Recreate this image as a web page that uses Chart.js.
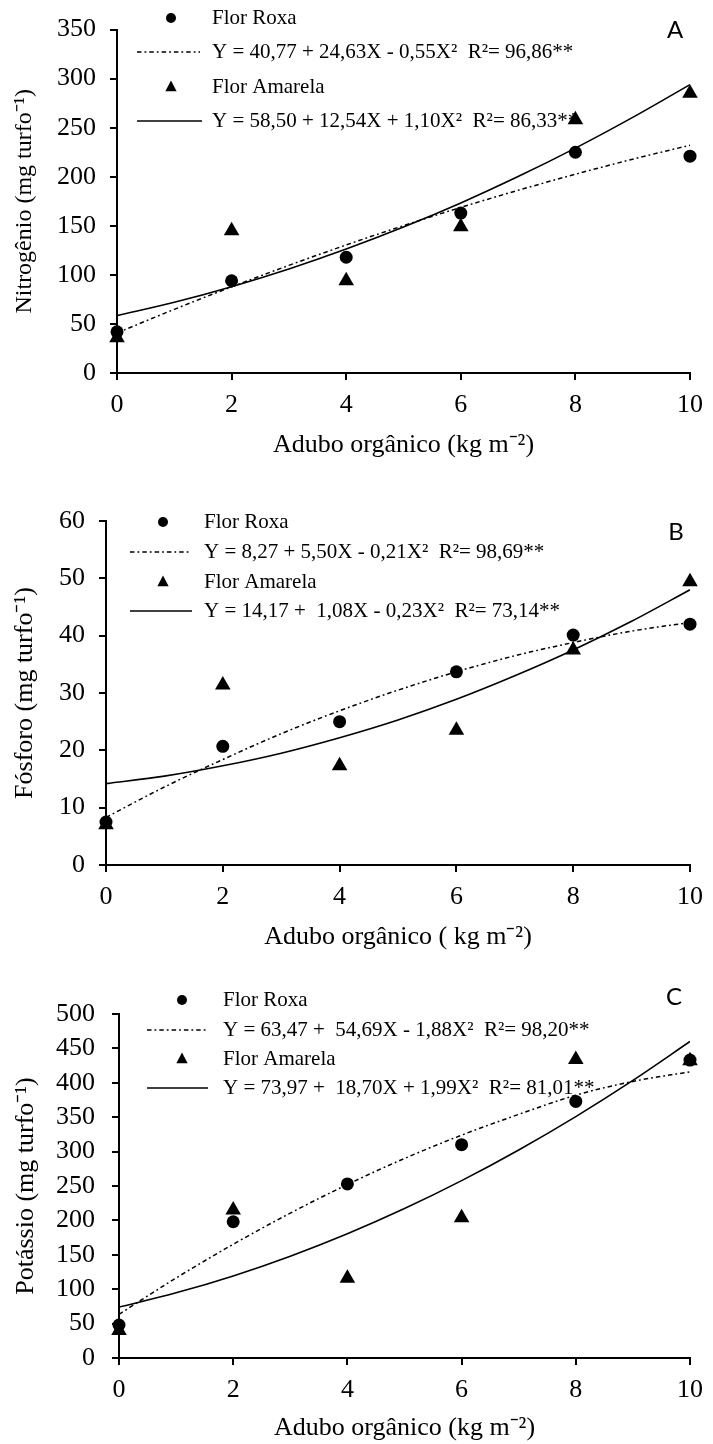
<!DOCTYPE html>
<html><head><meta charset="utf-8">
<script src="https://cdn.jsdelivr.net/npm/chart.js@4.4.1/dist/chart.umd.min.js"></script>
<style>
html,body{margin:0;padding:0;background:#fff;}
#page{position:relative;width:713px;height:1444px;overflow:hidden;background:#fff;}
.panel{position:absolute;left:0;}
canvas{display:block;}
</style></head><body><div id="page">
<div class="panel" style="top:0px"><canvas id="cA" width="713" height="461"></canvas></div>
<div class="panel" style="top:461px"><canvas id="cB" width="713" height="492"></canvas></div>
<div class="panel" style="top:953px"><canvas id="cC" width="713" height="491"></canvas></div>
</div>
<script>
// ---------- shared ----------
const doses = [0, 2, 4, 6, 8, 10];
const fitX = [0, 1, 2, 3, 4, 5, 6, 7, 8, 9, 10];
const xTicks = [0, 2, 4, 6, 8, 10];
const seriesNames = ['Flor Roxa', 'Flor Amarela'];

// ---------- panel A: Nitrogênio ----------
const nRoxa = [42, 94, 118, 163, 225, 221];
const nAmarela = [36, 145, 94, 149, 258, 285];
const nRoxaFit = [40.8, 64.9, 87.8, 109.7, 130.5, 150.2, 168.8, 186.2, 202.6, 217.9, 232.1];
const nAmarelaFit = [58.5, 72.1, 88.0, 106.0, 126.3, 148.7, 173.3, 200.2, 229.2, 260.5, 293.9];
const nYTicks = [0, 50, 100, 150, 200, 250, 300, 350];
const nEq = ['Y = 40,77 + 24,63X - 0,55X²  R²= 96,86**', 'Y = 58,50 + 12,54X + 1,10X²  R²= 86,33**'];

// ---------- panel B: Fósforo ----------
const pRoxa = [7.5, 20.7, 25.0, 33.7, 40.1, 42.0];
const pAmarela = [7.0, 31.4, 17.3, 23.5, 37.5, 49.4];
const pRoxaFit = [8.3, 13.6, 18.4, 22.9, 26.9, 30.5, 33.7, 36.5, 38.8, 40.8, 42.3];
const pAmarelaFit = [14.2, 15.5, 17.3, 19.5, 22.2, 25.3, 28.9, 33.0, 37.5, 42.5, 48.0];
const pYTicks = [0, 10, 20, 30, 40, 50, 60];
const pEq = ['Y = 8,27 + 5,50X - 0,21X²  R²= 98,69**', 'Y = 14,17 +  1,08X - 0,23X²  R²= 73,14**'];

// ---------- panel C: Potássio ----------
const kRoxa = [48, 198, 253, 310, 373, 433];
const kAmarela = [40, 215, 116, 204, 434, 432];
const kRoxaFit = [63.5, 116.3, 165.3, 210.6, 252.2, 290.0, 323.9, 354.1, 382.0, 402.0, 416.0];
const kAmarelaFit = [74.0, 94.7, 119.3, 148.0, 180.6, 217.2, 257.8, 302.4, 350.9, 403.5, 460.0];
const kYTicks = [0, 50, 100, 150, 200, 250, 300, 350, 400, 450, 500];
const kEq = ['Y = 63,47 +  54,69X - 1,88X²  R²= 98,20**', 'Y = 73,97 +  18,70X + 1,99X²  R²= 81,01**'];

const SERIF = '"Liberation Serif", "Times New Roman", serif';
const DASHDOT = [4.5, 3, 1.8, 3];

function legendPlugin(cfg) {
  return {
    id: 'panelLegend',
    beforeDatasetsDraw(chart) {
      const ctx = chart.ctx;
      const off = cfg.top;
      const L = cfg.legend;
      ctx.save();
      ctx.fillStyle = '#000';
      ctx.strokeStyle = '#000';
      ctx.font = '21px ' + SERIF;
      ctx.textBaseline = 'middle';
      ctx.textAlign = 'left';
      // row 1: circle marker
      let y = L.rows[0] - off;
      ctx.beginPath(); ctx.arc(L.mx, y, 5, 0, Math.PI * 2); ctx.fill();
      ctx.fillText(seriesNames[0], L.tx, y);
      // row 2: dash-dot sample
      y = L.rows[1] - off;
      ctx.lineWidth = 1.5; ctx.setLineDash(DASHDOT);
      ctx.beginPath(); ctx.moveTo(L.x0, y); ctx.lineTo(L.x1, y); ctx.stroke();
      ctx.setLineDash([]);
      ctx.fillText(cfg.eq[0], L.tx, y);
      // row 3: triangle marker
      y = L.rows[2] - off;
      const r = 6.5;
      ctx.beginPath();
      ctx.moveTo(L.mx, y - r);
      ctx.lineTo(L.mx + r * 0.866, y + r * 0.5 + 1);
      ctx.lineTo(L.mx - r * 0.866, y + r * 0.5 + 1);
      ctx.closePath(); ctx.fill();
      ctx.fillText(seriesNames[1], L.tx, y);
      // row 4: solid sample
      y = L.rows[3] - off;
      ctx.lineWidth = 1.5;
      ctx.beginPath(); ctx.moveTo(L.x0, y); ctx.lineTo(L.x1 + 2, y); ctx.stroke();
      ctx.fillText(cfg.eq[1], L.tx, y);
      // panel letter
      ctx.font = '24px Lato, "Open Sans", sans-serif';
      ctx.textAlign = 'center';
      ctx.fillText(cfg.letter, cfg.lx, cfg.ly - off);
      ctx.restore();
    }
  };
}

function makeChart(id, cfg) {
  return new Chart(document.getElementById(id), {
    type: 'scatter',
    data: {
      datasets: [
        { label: seriesNames[0], data: doses.map((x, i) => ({ x: x, y: cfg.roxa[i] })),
          pointStyle: 'circle', pointRadius: 6.5, pointBackgroundColor: '#000', pointBorderColor: '#000',
          pointBorderWidth: 0, clip: false },
        { label: seriesNames[1], data: doses.map((x, i) => ({ x: x, y: cfg.amarela[i] })),
          pointStyle: 'triangle', pointRadius: 9, pointBackgroundColor: '#000', pointBorderColor: '#000',
          pointBorderWidth: 0, clip: false },
        { type: 'line', label: cfg.eq[0], data: fitX.map((x, i) => ({ x: x, y: cfg.roxaFit[i] })),
          borderColor: '#000', borderWidth: 1.5, borderDash: DASHDOT, pointRadius: 0,
          cubicInterpolationMode: 'monotone', fill: false },
        { type: 'line', label: cfg.eq[1], data: fitX.map((x, i) => ({ x: x, y: cfg.amarelaFit[i] })),
          borderColor: '#000', borderWidth: 1.6, pointRadius: 0,
          cubicInterpolationMode: 'monotone', fill: false }
      ]
    },
    options: {
      responsive: false, animation: false, devicePixelRatio: 1,
      layout: { padding: { top: cfg.padTop, right: cfg.padRight, left: 0, bottom: 0 } },
      plugins: { legend: { display: false }, tooltip: { enabled: false } },
      scales: {
        x: {
          type: 'linear', position: 'bottom', min: 0, max: 10,
          afterBuildTicks: s => { s.ticks = xTicks.map(v => ({ value: v })); },
          afterFit: s => { s.height = cfg.xH; },
          grid: { drawOnChartArea: false, drawTicks: true, tickLength: 7, color: '#000', lineWidth: 2 },
          border: { display: true, color: '#000', width: 2 },
          ticks: { color: '#000', font: { size: 26, family: SERIF }, padding: 10, maxRotation: 0 },
          title: { display: true, text: cfg.xTitle, color: '#000', font: { size: 26, family: SERIF },
                   padding: { top: 0, bottom: 0 } }
        },
        y: {
          type: 'linear', position: 'left', min: 0, max: cfg.yMax,
          afterBuildTicks: s => { s.ticks = cfg.yTicks.map(v => ({ value: v })); },
          afterFit: s => { s.width = cfg.yW; },
          grid: { drawOnChartArea: false, drawTicks: true, tickLength: 7, color: '#000', lineWidth: 2 },
          border: { display: true, color: '#000', width: 2 },
          ticks: { color: '#000', font: { size: 26, family: SERIF }, padding: cfg.yPad },
          title: { display: true, text: cfg.yTitle, color: '#000', font: { size: cfg.yTitleSize, family: SERIF },
                   padding: { top: cfg.yTitlePad, bottom: 0 } }
        }
      }
    },
    plugins: [legendPlugin(cfg)]
  });
}

makeChart('cA', {
  top: 0, padTop: 29, padRight: 16, xH: 88, yW: 117, yPad: 14, yTitlePad: 10, yTitleSize: 24,
  roxa: nRoxa, amarela: nAmarela, roxaFit: nRoxaFit, amarelaFit: nAmarelaFit,
  yMax: 350, yTicks: nYTicks, eq: nEq,
  xTitle: 'Adubo orgânico (kg m⁻²)', yTitle: 'Nitrogênio (mg turfo⁻¹)',
  legend: { rows: [18, 52, 87, 121], mx: 171, tx: 212, x0: 137, x1: 200 },
  letter: 'A', lx: 675, ly: 30
});
makeChart('cB', {
  top: 461, padTop: 60, padRight: 15, xH: 88, yW: 106, yPad: 14, yTitlePad: 10, yTitleSize: 26,
  roxa: pRoxa, amarela: pAmarela, roxaFit: pRoxaFit, amarelaFit: pAmarelaFit,
  yMax: 60, yTicks: pYTicks, eq: pEq,
  xTitle: 'Adubo orgânico ( kg m⁻²)', yTitle: 'Fósforo (mg turfo⁻¹)',
  legend: { rows: [522, 552, 582, 611], mx: 163, tx: 204, x0: 130, x1: 190 },
  letter: 'B', lx: 676, ly: 532
});
makeChart('cC', {
  top: 953, padTop: 61, padRight: 13, xH: 86, yW: 119, yPad: 17, yTitlePad: 11, yTitleSize: 26,
  roxa: kRoxa, amarela: kAmarela, roxaFit: kRoxaFit, amarelaFit: kAmarelaFit,
  yMax: 500, yTicks: kYTicks, eq: kEq,
  xTitle: 'Adubo orgânico (kg m⁻²)', yTitle: 'Potássio (mg turfo⁻¹)',
  legend: { rows: [1000, 1030, 1059, 1088], mx: 182, tx: 223, x0: 147, x1: 206 },
  letter: 'C', lx: 674, ly: 997
});
</script>
</body></html>
